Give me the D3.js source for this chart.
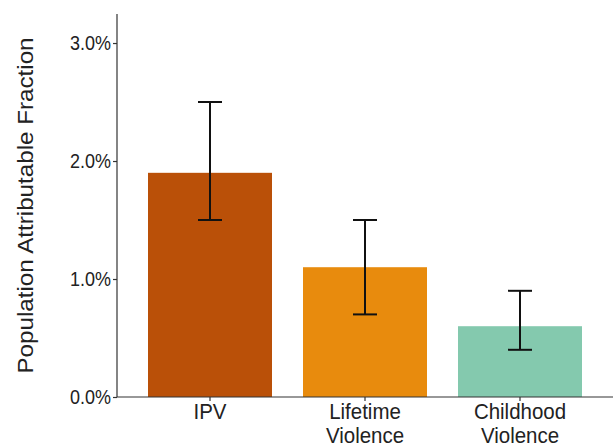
<!DOCTYPE html>
<html><head><meta charset="utf-8">
<script src="https://cdn.jsdelivr.net/npm/d3@7"></script>
<style>body{margin:0;background:#fff;} text{font-family:"Liberation Sans",Arial,Helvetica,sans-serif;}</style>
</head><body>
<svg id="c" width="613" height="445"></svg>
<script>
const categories = [["IPV"], ["Lifetime", "Violence"], ["Childhood", "Violence"]];
const values = [1.9, 1.1, 0.6];
const lower = [1.5, 0.7, 0.4];
const upper = [2.5, 1.5, 0.9];
const colors = ["#BA5008", "#E88B0D", "#84C9AE"];
const yTicks = [0, 1, 2, 3];

(function() {
const svg = d3.select("#c");
const mL = 117, mR = 613, mT = 14, mB = 397;
const keys = categories.map(c => c.join(" "));
const x = d3.scaleBand().domain(keys).range([mL, mR]).paddingInner(0.2).paddingOuter(0.2);
const y = d3.scaleLinear().domain([0, 3.246]).range([mB, mT]);

const data = keys.map((k, i) => ({k, v: values[i], lo: lower[i], hi: upper[i], c: colors[i]}));

svg.selectAll("rect.bar").data(data).join("rect").attr("class", "bar")
  .attr("x", d => x(d.k)).attr("width", x.bandwidth())
  .attr("y", d => y(d.v)).attr("height", d => y(0) - y(d.v))
  .attr("fill", d => d.c);

const cap = 12;
const cx = d => x(d.k) + x.bandwidth() / 2;
const eb = svg.selectAll("g.eb").data(data).join("g").attr("class", "eb")
  .attr("stroke", "#111").attr("stroke-width", 2);
eb.append("line").attr("x1", cx).attr("x2", cx).attr("y1", d => y(d.lo)).attr("y2", d => y(d.hi));
eb.append("line").attr("x1", d => cx(d) - cap).attr("x2", d => cx(d) + cap).attr("y1", d => y(d.lo)).attr("y2", d => y(d.lo));
eb.append("line").attr("x1", d => cx(d) - cap).attr("x2", d => cx(d) + cap).attr("y1", d => y(d.hi)).attr("y2", d => y(d.hi));

const ya = svg.append("g").attr("transform", `translate(${mL},0)`)
  .call(d3.axisLeft(y).tickValues(yTicks).tickFormat(d => d.toFixed(1) + "%").tickSize(4).tickPadding(2));
ya.select(".domain").attr("stroke", "#333").attr("stroke-width", 1.2).attr("d", `M0,${mB}V${mT}`);
ya.selectAll(".tick line").attr("stroke", "#333").attr("stroke-width", 1.2);
ya.selectAll(".tick text").attr("fill", "#222").attr("font-size", 18)
  .attr("font-family", "Liberation Sans, Arial, sans-serif")
  .attr("transform", "scale(1,1.15)");

const xa = svg.append("g").attr("transform", `translate(0,${mB})`)
  .call(d3.axisBottom(x).tickSize(4).tickFormat(""));
xa.select(".domain").attr("stroke", "#333").attr("stroke-width", 1.2).attr("d", `M${mL},0H${mR}`);
xa.selectAll(".tick line").attr("stroke", "#333").attr("stroke-width", 1.2);
xa.selectAll(".tick").each(function(d, i) {
  categories[i].forEach((s, j) => {
    d3.select(this).append("g").attr("transform", `translate(0,${22 + j * 23.5}) scale(1,1.1)`)
      .append("text").attr("fill", "#222").attr("font-size", 20.5)
      .attr("font-family", "Liberation Sans, Arial, sans-serif")
      .attr("text-anchor", "middle").text(s);
  });
});

svg.append("text").attr("transform", `translate(33,${(mT + mB) / 2}) rotate(-90) scale(1.1,1)`)
  .attr("text-anchor", "middle").attr("font-size", 22).attr("fill", "#222")
  .text("Population Attributable Fraction");
})();
</script>
</body></html>
